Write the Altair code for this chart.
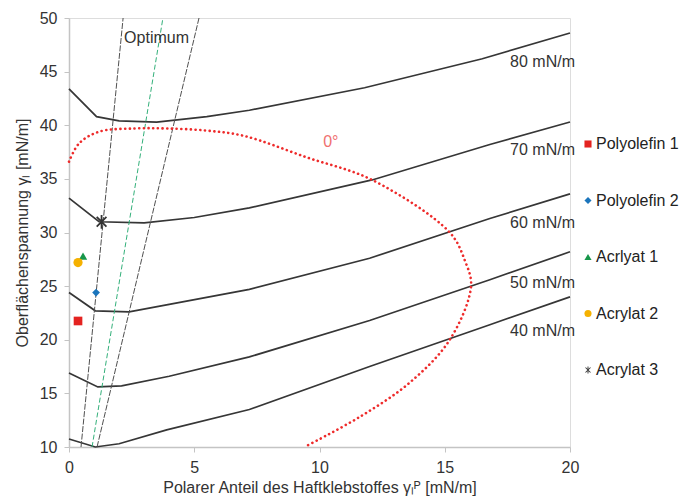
import altair as alt
import pandas as pd
import numpy as np

# ---- data ----
c80_x = [0, 1.1, 2.0, 3.5, 5.5, 7.2, 11.8, 16.5, 20]
c80_y = [43.4, 40.8, 40.4, 40.3, 40.8, 41.4, 43.5, 46.2, 48.6]
c70_x = [0, 1.2, 3.0, 5.0, 7.2, 12.1, 16.8, 20]
c70_y = [33.2, 31.0, 30.9, 31.4, 32.3, 34.9, 38.2, 40.3]
c60_x = [0, 1.05, 2.4, 4.0, 7.2, 12.0, 16.8, 20]
c60_y = [24.4, 22.7, 22.6, 23.3, 24.7, 27.6, 31.3, 33.6]
c50_x = [0, 1.15, 2.1, 4.0, 7.2, 12.0, 16.8, 20]
c50_y = [16.9, 15.6, 15.7, 16.6, 18.4, 21.8, 25.6, 28.2]
c40_x = [0, 1.05, 2.0, 3.9, 7.2, 12.0, 16.8, 20]
c40_y = [10.75, 10.0, 10.3, 11.6, 13.5, 17.5, 21.4, 24.0]

curve_labels = ["80 mN/m", "70 mN/m", "60 mN/m", "50 mN/m", "40 mN/m"]
label_x = [20.2, 20.2, 20.2, 20.2, 20.2]
label_y = [45.9, 37.7, 30.9, 25.3, 20.8]

zero_x = [0, 0.4, 1.2, 2.6, 3.9, 5.5, 7.0, 9.5, 12.1, 15.2, 15.8, 16.05, 15.2, 13.6, 11.6, 9.4]
zero_y = [36.6, 38.3, 39.4, 39.7, 39.7, 39.5, 39.0, 37.0, 34.9, 30.0, 27.4, 25.0, 20.0, 16.0, 12.8, 10.0]

opt_left_x = [0.48, 2.16]
opt_left_y = [10, 50]
opt_mid_x = [0.92, 3.75]
opt_mid_y = [10, 50]
opt_right_x = [1.12, 5.19]
opt_right_y = [10, 50]

materials = ["Polyolefin 1", "Polyolefin 2", "Acrlyat 1", "Acrylat 2", "Acrylat 3"]
mat_x = [0.36, 1.08, 0.56, 0.36, 1.3]
mat_y = [21.75, 24.4, 27.8, 27.2, 31.0]
mat_colors = ["#e42320", "#1b75bc", "#17964a", "#f5b100", "#333333"]
mat_sizes = [75, 60, 70, 85, 190]

# ---- asterisk shape (3 thin bars) ----
def bar(angle, w=0.13):
    d = np.array([np.cos(angle), np.sin(angle)])
    n = np.array([-d[1], d[0]])
    pts = [-d - w * n, d - w * n, d + w * n, -d + w * n]
    return "M" + "L".join(f"{p[0]:.3f},{p[1]:.3f}" for p in pts) + "Z"

star_path = bar(np.pi / 2) + bar(np.pi / 4) + bar(3 * np.pi / 4)
shapes = ["square", "diamond", "triangle-up", "circle", star_path]

# ---- frames ----
rows = []
for name, xs, ys in [("80", c80_x, c80_y), ("70", c70_x, c70_y), ("60", c60_x, c60_y),
                     ("50", c50_x, c50_y), ("40", c40_x, c40_y)]:
    for i, (a, b) in enumerate(zip(xs, ys)):
        rows.append({"curve": name, "x": a, "y": b, "i": i})
curves_df = pd.DataFrame(rows)

opt_black = pd.DataFrame({
    "line": ["l", "l", "r", "r"],
    "x": opt_left_x + opt_right_x,
    "y": opt_left_y + opt_right_y,
})
opt_green = pd.DataFrame({"x": opt_mid_x, "y": opt_mid_y})
zero_df = pd.DataFrame({"x": zero_x, "y": zero_y, "i": list(range(len(zero_x)))})
mat_df = pd.DataFrame({"mat": materials, "x": mat_x, "y": mat_y, "sz": mat_sizes})
lab_df = pd.DataFrame({"t": curve_labels, "x": label_x, "y": label_y})
opt_txt = pd.DataFrame({"t": ["Optimum"], "x": [2.2], "y": [48.1]})
zero_txt = pd.DataFrame({"t": ["0°"], "x": [10.45], "y": [38.4]})

FONT = "Liberation Sans"
FS = 16

xscale = alt.Scale(domain=[0, 20], nice=False, zero=False)
yscale = alt.Scale(domain=[10, 50], nice=False, zero=False)

axis_common = dict(grid=False, domainColor="#c4c4c4", domainWidth=1.5, tickColor="#c4c4c4",
                   tickSize=5, labelFontSize=FS, labelColor="#333333", titleFontSize=FS,
                   titleFontWeight="normal", titleColor="#333333", labelFont=FONT, titleFont=FONT,
                   labelFlush=False)

X = alt.X("x:Q", scale=xscale,
          axis=alt.Axis(values=[0, 5, 10, 15, 20], title="Polarer Anteil des Haftklebstoffes γₗᴾ [mN/m]",
                        labelPadding=7, titlePadding=4, **axis_common))
Y = alt.Y("y:Q", scale=yscale,
          axis=alt.Axis(values=[10, 15, 20, 25, 30, 35, 40, 45, 50], title="Oberflächenspannung γₗ [mN/m]",
                        labelPadding=7, titlePadding=9, **axis_common))

curves = alt.Chart(curves_df).mark_line(color="#363636", strokeWidth=1.7).encode(
    x=X, y=Y, detail="curve:N", order="i:Q")

blk = alt.Chart(opt_black).mark_line(color="#505050", strokeWidth=1, strokeDash=[6, 1.5]).encode(
    x="x:Q", y="y:Q", detail="line:N")
grn = alt.Chart(opt_green).mark_line(color="#33b07a", strokeWidth=1, strokeDash=[5, 2.5]).encode(
    x="x:Q", y="y:Q")

zero = alt.Chart(zero_df).mark_line(color="#ee2b2b", strokeWidth=2.6, strokeDash=[0.1, 4.6],
                                    strokeCap="round", interpolate="catmull-rom").encode(
    x="x:Q", y="y:Q", order="i:Q")

leg = alt.Legend(title=None, orient="none", legendX=511, legendY=118,
                 rowPadding=40.5, labelFontSize=FS, labelFont=FONT,
                 labelColor="#222222", symbolSize=50, labelOffset=0)

pts = alt.Chart(mat_df).mark_point(filled=True, opacity=1).encode(
    x="x:Q", y="y:Q",
    shape=alt.Shape("mat:N", scale=alt.Scale(domain=materials, range=shapes), legend=leg),
    color=alt.Color("mat:N", scale=alt.Scale(domain=materials, range=mat_colors), legend=leg),
    size=alt.Size("sz:Q", scale=None),
)

labs = alt.Chart(lab_df).mark_text(align="right", baseline="middle", fontSize=FS, font=FONT,
                                   color="#333333").encode(x="x:Q", y="y:Q", text="t:N")
otxt = alt.Chart(opt_txt).mark_text(align="left", baseline="middle", fontSize=FS, font=FONT,
                                    color="#333333").encode(x="x:Q", y="y:Q", text="t:N")
ztxt = alt.Chart(zero_txt).mark_text(align="center", baseline="middle", fontSize=FS, font=FONT,
                                     color="#f07070").encode(x="x:Q", y="y:Q", text="t:N")

chart = alt.layer(curves, blk, grn, zero, pts, labs, otxt, ztxt).properties(
    width=501, height=429,
    autosize=alt.AutoSizeParams(type="none"),
    padding={"left": 61, "top": 10, "right": 112, "bottom": 54},
).configure_view(stroke=None).configure(font=FONT)

chart.save("out.html", embed_options={"renderer": "svg", "actions": False})
